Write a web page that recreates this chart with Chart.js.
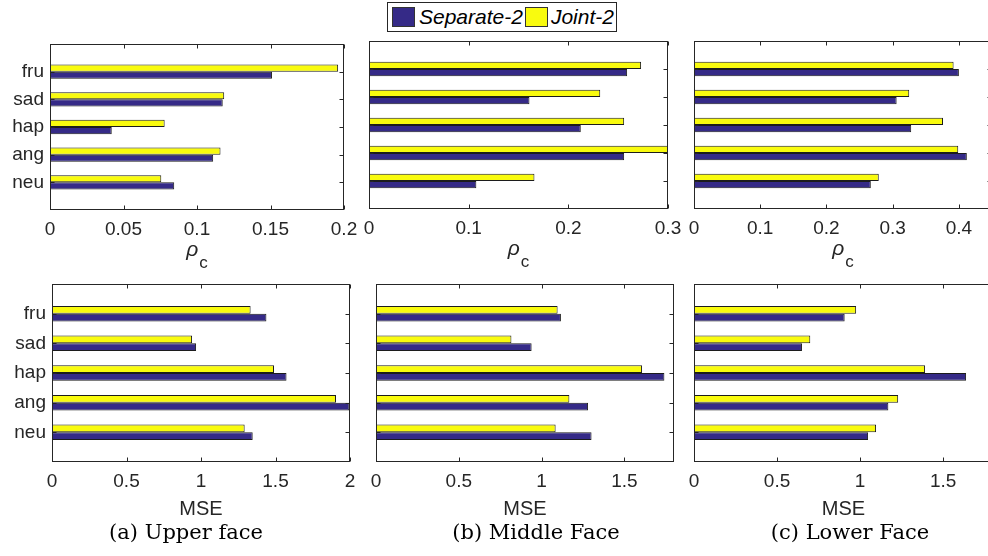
<!DOCTYPE html>
<html>
<head>
<meta charset="utf-8">
<script src="https://cdn.jsdelivr.net/npm/chart.js@4.4.1/dist/chart.umd.min.js"></script>
<style>
  html, body { margin: 0; padding: 0; background: #fff; }
  #fig { position: relative; width: 988px; height: 556px; overflow: hidden; }
  #fig canvas { position: absolute; }
  #legend {
    position: absolute; left: 387px; top: 2px; height: 28px;
    display: flex; align-items: center; padding-right: 2px;
    border: 1px solid #262626; background: #fff;
    font: italic 21px "Liberation Sans", Arial, sans-serif; color: #000;
  }
  #legend .sw { display: inline-block; width: 21px; height: 18px; border: 1px solid #333; }
</style>
</head>
<body>
<div id="fig">
  <canvas id="upperRho"></canvas>
  <canvas id="middleRho"></canvas>
  <canvas id="lowerRho"></canvas>
  <canvas id="upperMse"></canvas>
  <canvas id="middleMse"></canvas>
  <canvas id="lowerMse"></canvas>
  <div id="legend">
    <span class="sw" id="swSep" style="margin-left:4px"></span><span style="margin-left:4px">Separate-2</span>
    <span class="sw" id="swJoint" style="margin-left:2px"></span><span style="margin-left:3px">Joint-2</span>
  </div>
</div>
<script>
// categories, top to bottom
const emotions = ['fru', 'sad', 'hap', 'ang', 'neu'];

// rho_c (top row)
const upperRhoSeparate  = [0.151, 0.1175, 0.042, 0.111, 0.0845];
const upperRhoJoint     = [0.196, 0.1185, 0.078, 0.116, 0.0757];
const middleRhoSeparate = [0.259, 0.161, 0.2125, 0.256, 0.1077];
const middleRhoJoint    = [0.273, 0.232, 0.256, 0.300, 0.166];
const lowerRhoSeparate  = [0.400, 0.306, 0.328, 0.412, 0.267];
const lowerRhoJoint     = [0.392, 0.325, 0.376, 0.399, 0.279];

// MSE (bottom row)
const upperMseSeparate  = [1.439, 0.967, 1.574, 1.996, 1.347];
const upperMseJoint     = [1.333, 0.940, 1.490, 1.906, 1.293];
const middleMseSeparate = [1.117, 0.940, 1.742, 1.281, 1.302];
const middleMseJoint    = [1.097, 0.818, 1.607, 1.168, 1.085];
const lowerMseSeparate  = [0.907, 0.650, 1.638, 1.170, 1.048];
const lowerMseJoint     = [0.976, 0.700, 1.391, 1.229, 1.096];

// tick labels
const upperRhoTicks = [0, 0.05, 0.1, 0.15, 0.2];
const middleRhoTicks = [0, 0.1, 0.2, 0.3];
const lowerRhoTicks = [0, 0.1, 0.2, 0.3, 0.4];
const upperMseTicks = [0, 0.5, 1, 1.5, 2];
const otherMseTicks = [0, 0.5, 1, 1.5];

const separateColor = '#352A87';
const jointColor = '#F9FB0E';
document.getElementById('swSep').style.background = separateColor;
document.getElementById('swJoint').style.background = jointColor;

Chart.defaults.font.family = '"Liberation Sans", Arial, sans-serif';
Chart.defaults.font.size = 19;
Chart.defaults.color = '#262626';

// space around the plot box inside each canvas
const WY = 50, TP = 10, RP = 30, HX = 40, BP = 80;

// matlab style box, inward ticks, axis label and sub caption
const matlabAxes = {
  id: 'matlabAxes',
  afterDatasetsDraw(chart, args, opts) {
    const {ctx, chartArea: a} = chart;
    const x = chart.scales.x, y = chart.scales.y;
    ctx.save();
    ctx.strokeStyle = '#262626';
    ctx.lineWidth = 1;
    const L = Math.round(a.left) + 0.5, R = Math.round(a.right) - 0.5;
    const T = Math.round(a.top) + 0.5, B = Math.round(a.bottom) - 0.5;
    ctx.strokeRect(L, T, R - L, B - T);
    ctx.beginPath();
    x.ticks.forEach(t => {
      const px = Math.round(x.getPixelForValue(t.value)) + 0.5;
      ctx.moveTo(px, T); ctx.lineTo(px, T + 4);
      ctx.moveTo(px, B); ctx.lineTo(px, B - 4);
    });
    for (let i = 1; i <= emotions.length; i++) {
      const py = Math.round(y.getPixelForValue(i)) + 0.5;
      ctx.moveTo(L, py); ctx.lineTo(L + 4, py);
      ctx.moveTo(R, py); ctx.lineTo(R - 4, py);
    }
    ctx.stroke();

    const cx = (a.left + a.right) / 2;
    ctx.fillStyle = '#262626';
    if (opts.axisLabel === 'rho') {
      ctx.font = 'italic 21px "Liberation Sans", Arial, sans-serif';
      const w1 = ctx.measureText('ρ').width;
      ctx.font = '17px "Liberation Sans", Arial, sans-serif';
      const w2 = ctx.measureText('c').width;
      const x0 = cx - (w1 + 1 + w2) / 2;
      ctx.textBaseline = 'alphabetic';
      ctx.textAlign = 'left';
      ctx.font = 'italic 21px "Liberation Sans", Arial, sans-serif';
      ctx.fillText('ρ', x0, a.bottom + 46);
      ctx.font = '17px "Liberation Sans", Arial, sans-serif';
      ctx.fillText('c', x0 + w1 + 1, a.bottom + 58);
    } else {
      ctx.font = '20px "Liberation Sans", Arial, sans-serif';
      ctx.textAlign = 'center';
      ctx.textBaseline = 'middle';
      ctx.fillText(opts.axisLabel, cx, a.bottom + 47);
    }
    if (opts.caption) {
      ctx.fillStyle = '#000';
      ctx.font = '21px "DejaVu Serif", serif';
      ctx.textAlign = 'center';
      ctx.textBaseline = 'alphabetic';
      ctx.fillText(opts.caption, opts.captionX - opts.canvasLeft, 539 - opts.canvasTop);
    }
    ctx.restore();
  }
};

function makePanel(id, box, separate, joint, ticks, max, showLabels, axisLabel, caption, captionX) {
  const canvas = document.getElementById(id);
  const left = box.left - WY, top = box.top - TP;
  canvas.width = WY + box.w + RP;
  canvas.height = TP + box.h + HX + BP;
  canvas.style.left = left + 'px';
  canvas.style.top = top + 'px';

  const barStyle = {
    borderColor: '#1c1c1c', borderWidth: 1, borderSkipped: false,
    categoryPercentage: 0.52, barPercentage: 1
  };

  new Chart(canvas, {
    type: 'bar',
    data: {
      labels: ['', ...emotions, ''],
      datasets: [
        {label: 'Joint-2', data: [null, ...joint, null], backgroundColor: jointColor, ...barStyle},
        {label: 'Separate-2', data: [null, ...separate, null], backgroundColor: separateColor, ...barStyle}
      ]
    },
    options: {
      indexAxis: 'y',
      responsive: false,
      animation: false,
      devicePixelRatio: 1,
      layout: {padding: {top: TP, right: RP, bottom: BP, left: 0}},
      scales: {
        x: {
          type: 'linear', min: 0, max: max,
          grid: {display: false, drawTicks: false}, border: {display: false},
          afterBuildTicks: s => { s.ticks = ticks.map(v => ({value: v})); },
          afterFit: s => { s.height = HX; s.paddingLeft = 0; s.paddingRight = 0; },
          ticks: {padding: 8, maxRotation: 0, autoSkip: false, callback: v => String(v)}
        },
        y: {
          offset: false,
          grid: {display: false, drawTicks: false}, border: {display: false},
          afterFit: s => { s.width = WY; s.paddingTop = 0; s.paddingBottom = 0; },
          ticks: {display: showLabels, padding: 6, autoSkip: false}
        }
      },
      plugins: {
        legend: {display: false},
        tooltip: {enabled: false},
        matlabAxes: {axisLabel, caption, captionX, canvasLeft: left, canvasTop: top}
      }
    },
    plugins: [matlabAxes]
  });
}

makePanel('upperRho',  {left: 50,  top: 44, w: 294, h: 166}, upperRhoSeparate,  upperRhoJoint,  upperRhoTicks,  0.2,  true,  'rho');
makePanel('middleRho', {left: 369, top: 41, w: 299, h: 168}, middleRhoSeparate, middleRhoJoint, middleRhoTicks, 0.3,  false, 'rho');
makePanel('lowerRho',  {left: 694, top: 41, w: 298, h: 168}, lowerRhoSeparate,  lowerRhoJoint,  lowerRhoTicks,  0.45, false, 'rho');
makePanel('upperMse',  {left: 52,  top: 284, w: 298, h: 178}, upperMseSeparate,  upperMseJoint,  upperMseTicks, 2,   true,  'MSE', '(a) Upper face', 186);
makePanel('middleMse', {left: 376, top: 284, w: 298, h: 178}, middleMseSeparate, middleMseJoint, otherMseTicks, 1.8, false, 'MSE', '(b) Middle Face', 536);
makePanel('lowerMse',  {left: 694, top: 284, w: 299, h: 178}, lowerMseSeparate,  lowerMseJoint,  otherMseTicks, 1.8, false, 'MSE', '(c) Lower Face', 850);
</script>
</body>
</html>
